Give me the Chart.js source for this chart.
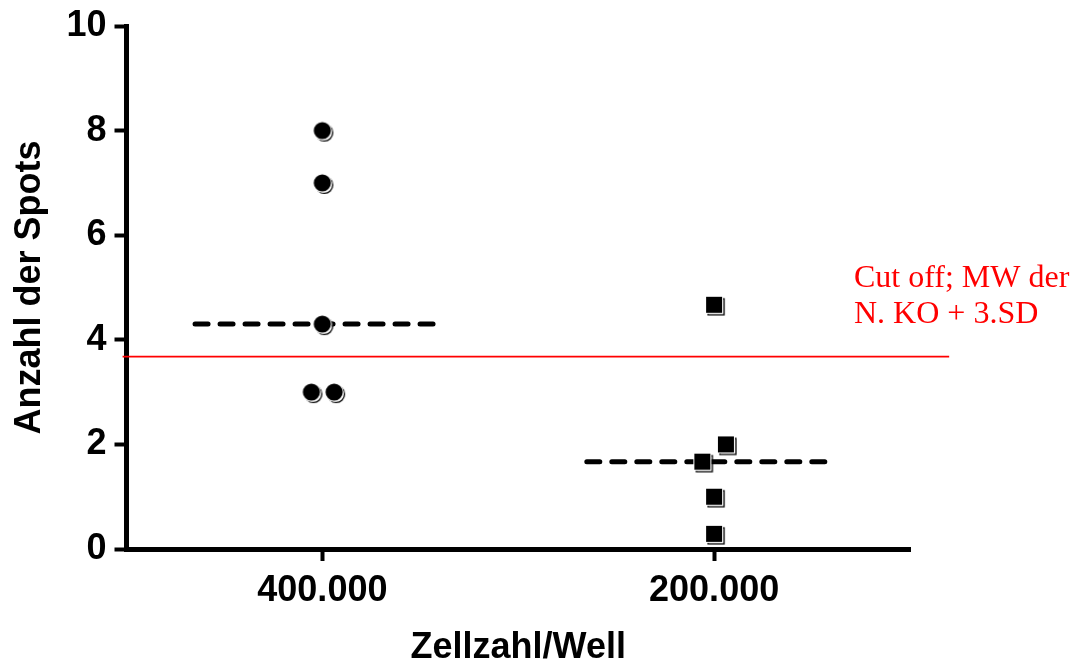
<!DOCTYPE html>
<html>
<head>
<meta charset="utf-8">
<script src="https://cdn.jsdelivr.net/npm/chart.js@4/dist/chart.umd.min.js"></script>
<style>
  html, body { margin: 0; padding: 0; background: #fff; }
  #wrap { width: 1082px; height: 666px; }
</style>
</head>
<body>
<div id="wrap"><canvas id="c"></canvas></div>
<script>
// Werte
const categories = ['400.000', '200.000'];
const spots400 = [8, 7, 4.3, 3, 3];
const spread400 = [0, 0, 0, -0.028, 0.03];
const spots200 = [4.67, 2, 1.67, 1, 0.29];
const spread200 = [0, 0.03, -0.03, 0, 0];
const cutoff = 3.68;
const cutoffSpan = [-0.51, 1.6];
const yTicks = [0, 2, 4, 6, 8, 10];

const AXIS_FONT = { family: '"Liberation Sans", Arial, sans-serif', size: 36, weight: 'bold', lineHeight: 1 };

function median(arr) {
  const s = [...arr].sort((a, b) => a - b);
  const mid = Math.floor(s.length / 2);
  return s.length % 2 ? s[mid] : (s[mid - 1] + s[mid]) / 2;
}

// Marker mit versetztem Schatten-Rand (wie im Original)
function makeSprite(shape) {
  const c = document.createElement('canvas');
  c.width = 28; c.height = 28;
  const g = c.getContext('2d');
  const m = 14;
  g.strokeStyle = '#000';
  g.lineWidth = 1.3;
  if (shape === 'circle') {
    g.beginPath(); g.arc(m + 2, m + 2, 8.4, 0, Math.PI * 2); g.stroke();
    g.fillStyle = '#fff';
    g.beginPath(); g.arc(m, m, 9.7, 0, Math.PI * 2); g.fill();
    g.fillStyle = '#000';
    g.beginPath(); g.arc(m, m, 8.6, 0, Math.PI * 2); g.fill();
  } else {
    g.strokeRect(m - 8 + 2, m - 8 + 2, 16, 16);
    g.fillStyle = '#fff';
    g.fillRect(m - 9, m - 9, 18, 18);
    g.fillStyle = '#000';
    g.fillRect(m - 8, m - 8, 16, 16);
  }
  return c;
}

const toPoints = (vals, spread, idx) => vals.map((v, i) => ({ x: idx + spread[i], y: v }));
const medianLine = (vals, idx) => {
  const m = median(vals);
  return [{ x: idx - 0.325, y: m }, { x: idx + 0.3, y: m }];
};

const lineBase = {
  type: 'line',
  showLine: true,
  pointRadius: 0,
  fill: false,
  borderColor: '#000',
  borderWidth: 5,
  borderDash: [13, 12],
  borderCapStyle: 'round',
  order: 1
};

const cutoffText = {
  id: 'cutoffText',
  afterDraw(chart) {
    const ctx = chart.ctx;
    ctx.save();
    ctx.fillStyle = '#ff0000';
    ctx.font = '32px "Liberation Serif", "Times New Roman", serif';
    ctx.textAlign = 'left';
    ctx.textBaseline = 'alphabetic';
    ctx.fillText('Cut off; MW der', 854, 287);
    ctx.fillText('N. KO + 3.SD', 854, 323);
    ctx.restore();
  }
};

new Chart(document.getElementById('c'), {
  type: 'scatter',
  data: {
    datasets: [
      {
        label: '400.000',
        data: toPoints(spots400, spread400, 0),
        pointStyle: makeSprite('circle'),
        pointRadius: 9,
        order: 0
      },
      {
        label: '200.000',
        data: toPoints(spots200, spread200, 1),
        pointStyle: makeSprite('square'),
        pointRadius: 9,
        order: 0
      },
      Object.assign({}, lineBase, { label: 'Median 400.000', data: medianLine(spots400, 0) }),
      Object.assign({}, lineBase, { label: 'Median 200.000', data: medianLine(spots200, 1) }),
      {
        type: 'line',
        label: 'Cut off',
        data: cutoffSpan.map(x => ({ x, y: cutoff })),
        showLine: true,
        pointRadius: 0,
        borderColor: '#ff0000',
        borderWidth: 1.8,
        clip: false,
        order: 2
      }
    ]
  },
  options: {
    responsive: true,
    maintainAspectRatio: false,
    animation: false,
    layout: { padding: { left: 0, right: 172, top: 26, bottom: 0 } },
    plugins: {
      legend: { display: false },
      tooltip: { enabled: false }
    },
    scales: {
      x: {
        type: 'linear',
        min: -0.5,
        max: 1.5,
        afterBuildTicks: (s) => { s.ticks = [{ value: 0 }, { value: 1 }]; },
        afterFit: (s) => { s.height = 117; },
        ticks: {
          callback: (v) => categories[v],
          font: AXIS_FONT,
          color: '#000',
          padding: 12,
          maxRotation: 0,
          autoSkip: false
        },
        grid: { display: true, drawOnChartArea: false, drawTicks: true, tickLength: 12, tickWidth: 4, color: '#000' },
        border: { display: true, width: 5, color: '#000' },
        title: { display: true, text: 'Zellzahl/Well', font: AXIS_FONT, color: '#000', padding: 0 }
      },
      y: {
        min: 0,
        max: 10,
        afterBuildTicks: (s) => { s.ticks = yTicks.map(v => ({ value: v })); },
        afterFit: (s) => { s.width = 126.5; },
        ticks: { font: AXIS_FONT, color: '#000', padding: 8 },
        grid: { display: true, drawOnChartArea: false, drawTicks: true, tickLength: 12, tickWidth: 4, color: '#000' },
        border: { display: true, width: 5, color: '#000' },
        title: { display: true, text: 'Anzahl der Spots', font: AXIS_FONT, color: '#000', padding: 12 }
      }
    }
  },
  plugins: [cutoffText]
});
</script>
</body>
</html>
